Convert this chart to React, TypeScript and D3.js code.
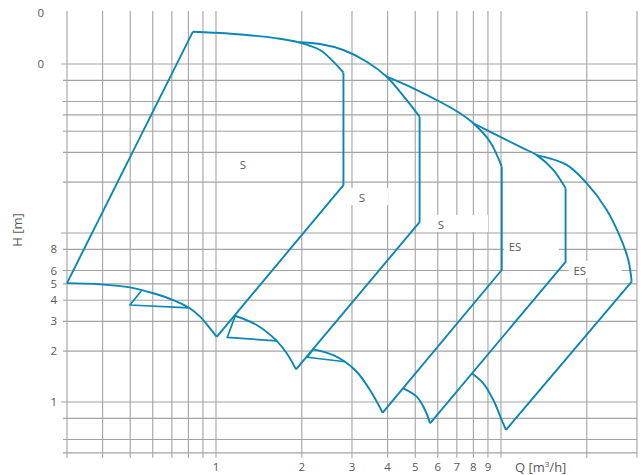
import React, { useEffect, useRef } from "react";
import * as d3 from "d3";

// grid values (log scales)
const qGrid = [0.3, 0.4, 0.5, 0.6, 0.7, 0.8, 0.9, 1, 2, 3, 4, 5, 6, 7, 8, 9, 10, 20, 30];
const hGrid = [0.5, 0.6, 0.8, 1, 2, 3, 4, 5, 6, 8, 10, 20, 30, 40, 50, 60, 80, 100];
const qTicks = [1, 2, 3, 4, 5, 6, 7, 8, 9];
const hTickValues = [1, 2, 3, 4, 5, 6, 8];
const hTopValues = [100, 200];
const hTopText = ["0", "0"];

// top (max speed) curves [Q, H]
const topA = [[0.83, 155.3], [0.976, 153.2], [1.281, 148.5], [1.633, 141.9], [1.945, 134.4], [2.317, 121.0], [2.58, 103.2], [2.8, 88.8]];
const topB = [[1.945, 134.4], [2.317, 131.3], [2.797, 121.0], [3.38, 103.2], [3.972, 84.1], [4.668, 61.2], [5.18, 48.8]];
const topC = [[3.972, 84.1], [4.924, 71.8], [6.109, 59.8], [7.18, 51.1], [7.995, 44.6], [9.151, 34.7], [10.06, 24.7]];
const topD = [[7.995, 44.6], [10.19, 36.3], [11.98, 31.7], [13.35, 28.9], [15.26, 23.6], [16.85, 18.4]];
const topE = [[13.35, 28.9], [17.0, 25.3], [19.98, 19.7], [23.49, 13.7], [26.16, 9.51], [27.97, 6.92], [28.75, 5.15]];

// bottom (min speed) curves
const lowA = [[0.3, 5.05], [0.392, 4.97], [0.499, 4.77], [0.603, 4.4], [0.708, 4.01], [0.804, 3.61], [0.879, 3.2], [0.953, 2.73], [1.006, 2.43]];
const lowB = [[1.16, 3.25], [1.389, 2.855], [1.633, 2.3], [1.771, 1.941], [1.909, 1.56]];
const lowC = [[2.194, 2.05], [2.58, 1.897], [2.836, 1.73], [3.117, 1.51], [3.47, 1.178], [3.845, 0.864]];
const lowD = [[4.542, 1.205], [5.061, 1.075], [5.413, 0.897], [5.636, 0.748]];
const lowE = [[7.892, 1.479], [8.667, 1.29], [9.398, 1.027], [10.06, 0.782], [10.41, 0.683]];

// straight limits: left edge, right verticals and system diagonals
const edgeA = [[0.3, 5.05], [0.83, 155.3]];
const sideA = [[2.8, 88.8], [2.8, 19.2], [1.006, 2.43]];
const sideB = [[5.18, 48.8], [5.18, 11.6], [1.909, 1.56]];
const sideC = [[10.06, 24.7], [10.06, 6.04], [3.845, 0.864]];
const sideD = [[16.85, 18.4], [16.85, 6.74], [5.636, 0.748]];
const sideE = [[28.75, 5.15], [10.41, 0.683]];

// small wedges: point on curve, corner, point on curve
const triA = [[0.55, 4.6], [0.499, 3.75], [0.804, 3.61]];
const triB = [[1.166, 3.21], [1.095, 2.41], [1.633, 2.3]];
const triC = [[2.194, 2.05], [2.091, 1.84], [2.836, 1.73]];

// labels
const labelText = ["S", "S", "S", "ES", "ES"];
const labelQ = [1.244, 3.253, 6.16, 11.2, 18.9];
const labelH = [25.3, 16.1, 11.15, 8.26, 5.96];

const App = () => {
  const ref = useRef<SVGSVGElement>(null);

  useEffect(() => {
    const svg = d3.select(ref.current);
    svg.selectAll("*").remove();

    const x = d3.scaleLog().domain([1, 10]).range([216, 501]);
    const y = d3.scaleLog().domain([1, 100]).range([402, 64]);
    const left = x(0.3), right = x(30);
    const top = 11, bottom = y(0.5) + 5;
    const gridColor = "#a3a3a3";
    const textColor = "#595959";
    const blue = "#0a87b4";
    const font = "'Open Sans', 'DejaVu Sans', sans-serif";

    // grid
    const grid = svg.append("g");
    grid.selectAll(".v").data(qGrid).enter().append("line")
      .attr("x1", d => x(d)).attr("x2", d => x(d))
      .attr("y1", top).attr("y2", bottom)
      .attr("stroke", gridColor).attr("stroke-width", 1.1);
    grid.selectAll(".h").data(hGrid).enter().append("line")
      .attr("x1", d => (d === 1 || d === 10 || d === 100 ? left - 6 : left - 4)).attr("x2", right)
      .attr("y1", d => y(d)).attr("y2", d => y(d))
      .attr("stroke", gridColor).attr("stroke-width", 1.1);

    // label boxes (white, hide grid behind)
    const boxW = [0, 40, 59, 55, 53];
    const boxL = [0, 14, 12, 11, 11];
    const lab = svg.append("g");
    lab.selectAll("rect").data(labelText).enter().append("rect")
      .filter((d, i) => i > 0)
      .attr("x", (d, i) => x(labelQ[i + 1]) - boxL[i + 1])
      .attr("y", (d, i) => y(labelH[i + 1]) - 10)
      .attr("width", (d, i) => boxW[i + 1])
      .attr("height", 17)
      .attr("fill", "#fff");

    // curves
    const smooth = d3.line<number[]>().x(d => x(d[0])).y(d => y(d[1])).curve(d3.curveCatmullRom.alpha(0.5));
    const straight = d3.line<number[]>().x(d => x(d[0])).y(d => y(d[1]));
    const curves = svg.append("g").attr("fill", "none").attr("stroke", blue)
      .attr("stroke-width", 1.9).attr("stroke-linejoin", "round");
    [topA, topB, topC, topD, topE, lowA, lowB, lowC, lowD, lowE].forEach(c => {
      curves.append("path").attr("d", smooth(c));
    });
    [edgeA, sideA, sideB, sideC, sideD, sideE].forEach(c => {
      curves.append("path").attr("d", straight(c));
    });
    [triA, triB, triC].forEach(c => {
      curves.append("path").attr("d", straight(c)).attr("stroke-width", 1.7);
    });

    // label text
    lab.selectAll("text").data(labelText).enter().append("text")
      .attr("x", (d, i) => x(labelQ[i]))
      .attr("y", (d, i) => y(labelH[i]))
      .attr("dy", "0.35em")
      .attr("text-anchor", "middle")
      .attr("font-family", font).attr("font-size", 11.5)
      .attr("fill", textColor)
      .text(d => d);

    // axis labels
    const ax = svg.append("g").attr("font-family", font).attr("font-size", 11.5).attr("fill", textColor);
    ax.selectAll(".qt").data(qTicks).enter().append("text")
      .attr("x", d => x(d)).attr("y", 471)
      .attr("text-anchor", "middle").text(d => d);
    ax.selectAll(".ht").data(hTickValues).enter().append("text")
      .attr("x", 57).attr("y", d => y(d)).attr("dy", "0.35em")
      .attr("text-anchor", "end").text(d => d);
    ax.selectAll(".h0").data(hTopValues).enter().append("text")
      .attr("x", 44).attr("y", d => y(d)).attr("dy", "0.35em")
      .attr("text-anchor", "end").text((d, i) => hTopText[i]);

    const qt = ax.append("text").attr("x", 515).attr("y", 472).attr("font-size", 13);
    qt.append("tspan").text("Q [m");
    qt.append("tspan").attr("font-size", 8).attr("dy", -5).text("3");
    qt.append("tspan").attr("dy", 5).text("/h]");

    ax.append("text")
      .attr("transform", "translate(22,230) rotate(-90)")
      .attr("text-anchor", "middle").attr("font-size", 13)
      .text("H [m]");
  }, []);

  return (
    <svg ref={ref} width={641} height={475}
      style={{ position: "absolute", left: 0, top: 0, background: "#fff" }} />
  );
};

export default App;
